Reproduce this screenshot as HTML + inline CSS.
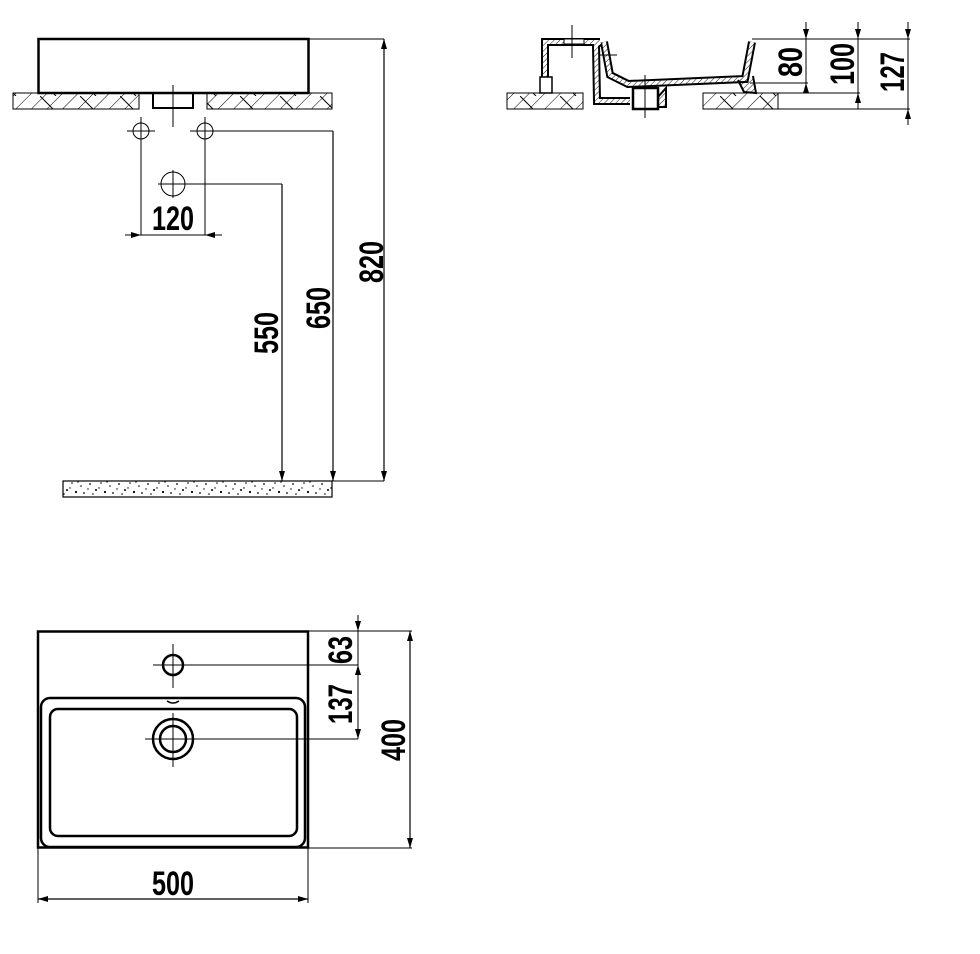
<!DOCTYPE html>
<html><head><meta charset="utf-8"><style>
html,body{margin:0;padding:0;background:#fff}
svg{display:block}
text{font-family:"Liberation Sans Narrow","Liberation Sans",sans-serif;font-size:34px;font-weight:bold;fill:#000}
</style></head><body>
<svg width="980" height="954" viewBox="0 0 980 954" xmlns="http://www.w3.org/2000/svg">
<defs>
<pattern id="h1" width="11" height="11" patternUnits="userSpaceOnUse" patternTransform="rotate(45)">
<line x1="0" y1="0" x2="0" y2="11" stroke="#000" stroke-width="1"/></pattern>
<pattern id="h2" width="40" height="16" patternUnits="userSpaceOnUse">
<line x1="0" y1="0" x2="16" y2="16" stroke="#000" stroke-width="1"/></pattern>
<pattern id="hs" width="4" height="4" patternUnits="userSpaceOnUse" patternTransform="rotate(45)">
<line x1="0" y1="0" x2="0" y2="4" stroke="#000" stroke-width="0.9"/></pattern>
<pattern id="sp" width="29" height="16" patternUnits="userSpaceOnUse">
<circle cx="3" cy="4" r="0.9"/><circle cx="9" cy="10" r="1"/><circle cx="14" cy="3" r="0.8"/><circle cx="18" cy="12" r="1.1"/><circle cx="23" cy="6" r="0.8"/><circle cx="26" cy="13" r="0.9"/><circle cx="6" cy="14" r="0.8"/><circle cx="20" cy="2" r="0.7"/><circle cx="12" cy="8" r="0.7"/><circle cx="1" cy="9" r="0.7"/>
</pattern>
<marker id="a" viewBox="0 0 10 6" refX="10" refY="3" markerWidth="10" markerHeight="6" orient="auto-start-reverse" markerUnits="userSpaceOnUse"><path d="M0,0 L10,3 L0,6 z"/></marker>
</defs>

<!-- ===== TOP LEFT ===== -->
<g fill="none" stroke="#000">
<rect x="38.5" y="39" width="270" height="54" stroke-width="2.5"/>
<rect x="13" y="93" width="126" height="16" fill="url(#h1)" stroke-width="1"/>
<rect x="13" y="93" width="126" height="16" fill="url(#h2)" stroke-width="1"/>
<rect x="207" y="93" width="125" height="16" fill="url(#h1)" stroke-width="1"/>
<rect x="207" y="93" width="125" height="16" fill="url(#h2)" stroke-width="1"/>
<path d="M153,93 V108 H193 V93" stroke-width="2"/>
<line x1="173" y1="85" x2="173" y2="127" stroke-width="1"/>
<circle cx="141" cy="131" r="8" stroke-width="1"/>
<circle cx="205" cy="131" r="8" stroke-width="1"/>
<line x1="127" y1="131" x2="155" y2="131" stroke-width="1"/>
<line x1="141" y1="117" x2="141" y2="235" stroke-width="1"/>
<line x1="190" y1="131" x2="333" y2="131" stroke-width="1"/>
<line x1="205" y1="117" x2="205" y2="235" stroke-width="1"/>
<circle cx="173" cy="184" r="12" stroke-width="1"/>
<line x1="158" y1="184" x2="282" y2="184" stroke-width="1"/>
<line x1="173" y1="170" x2="173" y2="198" stroke-width="1"/>
<line x1="125" y1="235" x2="141" y2="235" stroke-width="1" marker-end="url(#a)"/>
<line x1="141" y1="235" x2="205" y2="235" stroke-width="1"/>
<line x1="222" y1="235" x2="205" y2="235" stroke-width="1" marker-end="url(#a)"/>
<line x1="282" y1="184" x2="282" y2="481" stroke-width="1.2" marker-end="url(#a)"/>
<line x1="333" y1="131" x2="333" y2="481" stroke-width="1.2" marker-end="url(#a)"/>
<line x1="308" y1="39" x2="384" y2="39" stroke-width="1"/>
<line x1="384" y1="39" x2="384" y2="481" stroke-width="1.2" marker-start="url(#a)" marker-end="url(#a)"/>
<line x1="332" y1="481" x2="384" y2="481" stroke-width="1"/>
<rect x="63" y="481" width="269" height="16" fill="url(#sp)" stroke-width="1.2"/>
</g>
<text x="173" y="230" text-anchor="middle" textLength="42" lengthAdjust="spacingAndGlyphs">120</text>
<text transform="translate(383,262) rotate(-90)" text-anchor="middle" textLength="42" lengthAdjust="spacingAndGlyphs">820</text>
<text transform="translate(330,308) rotate(-90)" text-anchor="middle" textLength="42" lengthAdjust="spacingAndGlyphs">650</text>
<text transform="translate(278,333) rotate(-90)" text-anchor="middle" textLength="42" lengthAdjust="spacingAndGlyphs">550</text>

<!-- ===== TOP RIGHT (section) ===== -->
<g fill="none" stroke="#000">
<rect x="507" y="93" width="76" height="16" fill="url(#h1)" stroke-width="1"/>
<rect x="507" y="93" width="76" height="16" fill="url(#h2)" stroke-width="1"/>
<rect x="703" y="93" width="75" height="16" fill="url(#h1)" stroke-width="1"/>
<rect x="703" y="93" width="75" height="16" fill="url(#h2)" stroke-width="1"/>
<g stroke-linejoin="miter">
<path d="M545,93 V42 H600 M600,42 L596,45 L597,101 L630,101 M604,42 L610,75 L628,84 L745,79 L752,42" stroke-width="8"/>
<path d="M545,88 V42 H600 M600,42 L596,45 L597,101 L630,101 M604,42 L610,75 L628,84 L745,79 L752,42" stroke="#fff" stroke-width="4"/>
<path d="M545,88 V42 H600 M600,42 L596,45 L597,101 L630,101 M604,42 L610,75 L628,84 L745,79 L752,42" stroke="url(#hs)" stroke-width="4"/>
</g>
<rect x="540" y="77" width="12" height="16" fill="#fff" stroke-width="1.5"/>
<rect x="564" y="39" width="20" height="5" fill="#fff" stroke-width="1"/>
<rect x="633" y="88" width="25" height="21" fill="#fff" stroke-width="2.5"/>
<path d="M658,97 L666,88 L666,107 L658,107" fill="url(#hs)" stroke-width="2"/>
<path d="M738,80 L744,92 L756,93 L753,76" fill="url(#hs)" stroke-width="2"/>
<line x1="572" y1="25" x2="572" y2="58" stroke-width="1"/>
<line x1="600" y1="55" x2="617" y2="55" stroke-width="1"/>
<line x1="645" y1="75" x2="645" y2="118" stroke-width="1"/>
<line x1="752" y1="39" x2="910" y2="39" stroke-width="1"/>
<line x1="750" y1="83" x2="808" y2="83" stroke-width="1"/>
<line x1="778" y1="93" x2="860" y2="93" stroke-width="1"/>
<line x1="778" y1="109" x2="910" y2="109" stroke-width="1"/>
<line x1="806" y1="22" x2="806" y2="39" stroke-width="1" marker-end="url(#a)"/>
<line x1="806" y1="39" x2="806" y2="93" stroke-width="1"/>
<line x1="806" y1="93" x2="806" y2="83" stroke-width="1" marker-end="url(#a)"/>
<line x1="858" y1="22" x2="858" y2="39" stroke-width="1" marker-end="url(#a)"/>
<line x1="858" y1="39" x2="858" y2="109" stroke-width="1"/>
<line x1="858" y1="109" x2="858" y2="93" stroke-width="1" marker-end="url(#a)"/>
<line x1="908" y1="22" x2="908" y2="39" stroke-width="1" marker-end="url(#a)"/>
<line x1="908" y1="39" x2="908" y2="109" stroke-width="1"/>
<line x1="908" y1="125" x2="908" y2="109" stroke-width="1" marker-end="url(#a)"/>
</g>
<text transform="translate(802,62) rotate(-90)" text-anchor="middle" textLength="30" lengthAdjust="spacingAndGlyphs">80</text>
<text transform="translate(854,64) rotate(-90)" text-anchor="middle" textLength="42" lengthAdjust="spacingAndGlyphs">100</text>
<text transform="translate(904,72) rotate(-90)" text-anchor="middle" textLength="40" lengthAdjust="spacingAndGlyphs">127</text>

<!-- ===== BOTTOM (plan) ===== -->
<g fill="none" stroke="#000">
<rect x="38" y="631.5" width="270" height="216" stroke-width="2.5"/>
<rect x="41" y="698" width="264" height="149" rx="9" stroke-width="2.5"/>
<rect x="50" y="709" width="247" height="127" rx="8" stroke-width="2.5"/>
<circle cx="173" cy="665" r="10" stroke-width="2.5"/>
<line x1="153" y1="665" x2="358" y2="665" stroke-width="1"/>
<line x1="173" y1="644" x2="173" y2="688" stroke-width="1"/>
<path d="M167,701 Q173,705 179,701" stroke-width="1.5"/>
<circle cx="173" cy="739" r="20" stroke-width="2.5"/>
<circle cx="173" cy="739" r="13" stroke-width="2.5"/>
<line x1="145" y1="739" x2="358" y2="739" stroke-width="1"/>
<line x1="173" y1="713" x2="173" y2="767" stroke-width="1"/>
<line x1="358" y1="615" x2="358" y2="631" stroke-width="1" marker-end="url(#a)"/>
<line x1="358" y1="631" x2="358" y2="665" stroke-width="1"/>
<line x1="358" y1="665" x2="358" y2="739" stroke-width="1" marker-start="url(#a)" marker-end="url(#a)"/>
<line x1="308" y1="631" x2="412" y2="631" stroke-width="1"/>
<line x1="308" y1="848" x2="412" y2="848" stroke-width="1"/>
<line x1="410" y1="631" x2="410" y2="848" stroke-width="1.2" marker-start="url(#a)" marker-end="url(#a)"/>
<line x1="38" y1="848" x2="38" y2="903" stroke-width="1"/>
<line x1="308" y1="848" x2="308" y2="903" stroke-width="1"/>
<line x1="38" y1="899" x2="308" y2="899" stroke-width="1.2" marker-start="url(#a)" marker-end="url(#a)"/>
</g>
<text x="173" y="895" text-anchor="middle" textLength="42" lengthAdjust="spacingAndGlyphs">500</text>
<text transform="translate(352,650) rotate(-90)" text-anchor="middle" textLength="28" lengthAdjust="spacingAndGlyphs">63</text>
<text transform="translate(352,704) rotate(-90)" text-anchor="middle" textLength="40" lengthAdjust="spacingAndGlyphs">137</text>
<text transform="translate(405,740) rotate(-90)" text-anchor="middle" textLength="42" lengthAdjust="spacingAndGlyphs">400</text>
</svg>
</body></html>
